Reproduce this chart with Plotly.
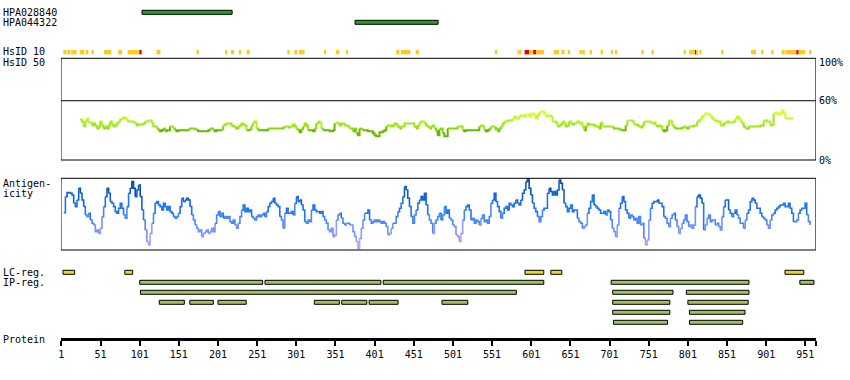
import numpy as np
import plotly.graph_objects as go

# ---------------------------------------------------------------- data
PROTEIN_LENGTH = 964
AXIS_TICKS = [1, 51, 101, 151, 201, 251, 301, 351, 401, 451, 501, 551, 601, 651, 701, 751, 801, 851, 901, 951]

ANTIBODY_NAMES = ["HPA028840", "HPA044322"]
ANTIBODY_START = [104, 376]
ANTIBODY_END = [219, 482]

# HsID 10 conserved stretches: 1 = yellow, 2 = red, 3 = dark red
HSID10_START = [4, 9, 14, 25, 33, 40, 56, 74, 86, 91, 101, 123, 174, 211, 218, 228, 238, 290, 299, 305,
                337, 352, 365, 429, 435, 439, 454, 555, 584, 593, 599, 602, 604, 608, 630, 640, 648, 663, 667, 676,
                690, 704, 709, 742, 755, 796, 803, 809, 811, 812, 816, 844, 882, 886, 895, 908, 921, 926, 940, 943, 957]
HSID10_END = [7, 12, 20, 30, 35, 42, 64, 78, 90, 100, 103, 127, 176, 212, 221, 230, 241, 292, 302, 311,
              338, 355, 366, 432, 438, 446, 457, 557, 588, 598, 600, 603, 607, 617, 636, 643, 650, 666, 669, 678,
              692, 705, 710, 744, 757, 798, 807, 810, 811, 813, 818, 846, 885, 887, 897, 910, 924, 939, 942, 950, 958]
HSID10_LEVEL = [1, 1, 1, 1, 1, 1, 1, 1, 1, 1, 2, 1, 1, 1, 1, 1, 1, 1, 1, 1,
                1, 1, 1, 1, 1, 1, 1, 1, 1, 2, 1, 1, 2, 1, 1, 1, 1, 1, 1, 1,
                1, 1, 1, 1, 1, 1, 1, 1, 3, 1, 1, 1, 1, 1, 1, 1, 1, 1, 2, 1, 1]

# HsID 50 identity (%), sampled evenly between first and last residue
HSID50_FIRST_RES = 25
HSID50_LAST_RES = 936
HSID50_PCT = [
    41, 39, 34, 39, 42, 38, 38, 35, 37, 35, 32, 34, 39, 35, 32, 34, 32, 35, 39, 36,
    34, 35, 37, 39, 41, 42, 43, 42, 40, 39, 39, 39, 38, 37, 35, 36, 36, 36, 37, 39,
    39, 40, 40, 37, 34, 34, 32, 30, 29, 30, 32, 29, 30, 30, 34, 34, 32, 30, 29, 30,
    30, 30, 30, 30, 30, 31, 32, 32, 32, 31, 30, 29, 29, 29, 29, 29, 29, 30, 32, 32,
    30, 29, 30, 30, 30, 31, 35, 36, 37, 37, 37, 35, 34, 33, 32, 34, 35, 37, 36, 35,
    30, 30, 31, 35, 38, 39, 32, 30, 30, 30, 30, 30, 30, 32, 32, 32, 32, 32, 32, 32,
    32, 32, 33, 34, 34, 33, 34, 34, 36, 34, 31, 30,
    28, 31, 34, 37, 35, 30, 30, 30, 29, 32, 37, 39, 38, 32, 30, 30, 30, 30, 29, 29,
    30, 37, 38, 37, 35, 37, 37, 35, 35, 34, 32, 32, 29, 32, 27, 25, 32, 31, 30, 30,
    30, 29, 29, 29, 27, 25, 24, 24, 28, 28, 29, 30, 34, 35, 35, 34, 35, 37, 36, 34,
    32, 34, 34, 37, 37, 37, 37, 37, 37, 34, 32, 35, 38, 39, 39, 37, 35, 34, 32, 34,
    35, 32, 29, 25, 31, 32, 27, 24, 24, 32, 32, 32, 32, 32, 32, 34, 34, 34, 30, 29,
    30, 30, 30, 30, 30, 30, 30, 30, 34, 35, 34, 30, 29, 30, 32, 34, 34, 33, 31, 29,
    32, 34, 37, 39, 39, 40, 40, 40, 42, 44, 42, 42, 44, 45, 45, 44, 46, 46, 44, 47,
    47, 45, 42, 45, 48, 49, 49, 47, 44, 45,
    45, 44, 39, 39, 38, 34, 35, 36, 39, 37, 34, 35, 39, 37, 36, 37, 38, 39, 37, 38,
    34, 30, 34, 37, 36, 36, 36, 35, 34, 34, 32, 38, 34, 34, 34, 34, 34, 34, 33, 32,
    32, 32, 31, 30, 30, 30, 35, 40, 40, 40, 39, 36, 36, 35, 34, 33, 35, 39, 39, 39,
    39, 38, 37, 38, 35, 34, 35, 34, 30, 29, 30, 35, 40, 39, 35, 33, 32, 32, 32, 32,
    33, 34, 33, 32, 34, 34, 34, 35, 35, 39, 40, 42, 44, 46, 47, 47, 46, 44, 42, 40,
    40, 39, 39, 35, 35, 37, 38, 39, 38, 38, 38, 39, 42, 44, 42, 39, 37, 34, 32, 32,
    34, 34, 34, 34, 34, 34, 34, 35, 35, 40, 40, 39, 39, 35, 36, 47, 48, 47, 46, 48,
    50, 47, 42, 42, 42, 42, 42, 42,
]

# Antigenicity score (arbitrary units), sampled evenly between first and last residue
ANTIGEN_FIRST_RES = 4
ANTIGEN_LAST_RES = 957
ANTIGENICITY = [
    112, 160, 172, 172, 170, 165, 140, 130, 150, 185, 170, 150, 130, 105, 100, 110, 90, 80, 75, 55,
    60, 50, 65, 100, 130, 160, 185, 170, 145, 140, 130, 115, 110, 125, 140, 125, 105, 95, 130, 170,
    185, 205, 185, 160, 180, 195, 160, 120, 90, 60, 25, 15, 50, 80, 110, 140, 145, 135, 130, 120,
    140, 130, 120, 130, 115, 110, 100, 95, 100, 110, 130, 155, 145, 150, 155, 150, 130, 105, 90, 75,
    65, 55, 60, 40, 50, 55, 60, 50, 55, 65, 55, 80, 105, 115, 100, 110, 95, 100, 95, 100,
    85, 80, 90, 75, 65, 80, 100, 120, 135, 115, 125, 115, 120, 100, 95, 90, 100, 105, 100, 105,
    110, 100, 115, 130, 140, 145, 155, 140, 135, 130, 100, 90, 65, 110, 125, 110,
    110, 115, 105, 140, 160, 145, 150, 135, 120, 85, 80, 90, 85, 120, 135, 120, 115, 115, 110, 115,
    100, 90, 80, 60, 55, 65, 40, 45, 90, 105, 110, 95, 80, 75, 80, 80, 75, 75, 55, 40,
    25, 5, 35, 65, 90, 110, 110, 120, 90, 80, 85, 90, 85, 90, 85, 80, 85, 80, 70, 45,
    50, 65, 80, 80, 100, 115, 125, 140, 160, 190, 180, 155, 130, 100, 80, 105, 120, 140, 150, 160,
    150, 170, 135, 105, 90, 80, 50, 80, 90, 100, 110, 90, 105, 130, 110, 120, 95, 90, 75, 70,
    45, 40, 25, 50, 90, 120, 130, 135, 120, 90, 95, 80, 90, 85, 75, 95, 105, 85, 90, 80,
    100, 140, 150, 170, 145, 130, 115, 95, 110, 125, 130, 120, 140, 135, 130, 140, 150, 140, 135, 150,
    170, 180, 205, 215, 185, 165, 140, 125, 115, 100, 85, 100, 120, 125, 125, 170, 185, 175, 165, 175,
    165, 180,
    210, 200, 180, 140, 130, 115, 125, 135, 115, 120, 120, 95, 85, 80, 65, 70, 75, 110, 125, 145,
    165, 135, 130, 125, 120, 110, 110, 115, 105, 120, 115, 90, 65, 55, 40, 75, 125, 140, 160, 145,
    120, 110, 95, 105, 100, 90, 95, 80, 100, 75, 80, 35, 15, 30, 90, 125, 140, 145, 145, 150,
    140, 140, 130, 100, 95, 80, 70, 95, 105, 110, 90, 70, 50, 65, 80, 90, 105, 85, 70, 75,
    65, 75, 130, 160, 165, 155, 140, 60, 75, 95, 105, 85, 90, 90, 75, 80, 70, 60, 100, 130,
    150, 150, 120, 110, 100, 110, 120, 105, 95, 80, 80, 65, 90, 110, 120, 145, 155, 150, 140, 125,
    125, 110, 100, 95, 90, 75, 65, 90, 105, 110, 120, 125, 130, 135, 135, 140, 130, 130, 140, 125,
    110, 85, 85, 90, 110, 120, 125, 125, 140, 105, 85, 75,
]
ANTIGEN_MAX = 215

LC_START = [3, 82, 593, 626, 925]
LC_END = [18, 92, 617, 640, 949]

IP_ROW = [1, 1, 1, 1, 1,
          2, 2, 2,
          3, 3, 3, 3, 3, 3, 3, 3, 3,
          4, 4,
          5, 5]
IP_START = [101, 261, 412, 703, 944,
            102, 705, 799,
            126, 165, 201, 324, 359, 394, 487, 705, 801,
            705, 803,
            706, 803]
IP_END = [258, 409, 617, 879, 962,
          582, 782, 879,
          158, 195, 237, 356, 391, 431, 520, 778, 878,
          778, 874,
          775, 871]

# ---------------------------------------------------------------- layout / style
W, H = 850, 380
FONT = "DejaVu Sans Mono"
X_LEFT_PX, X_RIGHT_PX = 58.2, 815.8
LEFT_LABEL_PX = -2.0
RIGHT_LABEL_PX = 817.0
ANTIBODY_ROW_PX = [12.3, 22.3]
HSID10_ROW_PX = 52.2
LC_ROW_PX = 272.3
IP_ROW0_PX, IP_ROW_PITCH = 282.3, 10
HSID_BOX = (58.3, 160.0)
HSID_SCALE = (160.0, 61.2)      # pixel of 0% and 100%
ANT_BOX = (178.3, 250.0)
PROTEIN_AXIS_PX = 339

HSID10_COLORS = {1: "#ffc822", 2: "#e60000", 3: "#a00000"}
ANT_EDGES = [30, 55, 80, 110, 150, 185]
ANT_COLORS = ["#b0a4ff", "#9399ff", "#7790ff", "#4a86fb", "#1f74f0", "#0f60d4", "#0b4ea8"]
HSID_EDGES = [31, 34, 38, 42, 46]
HSID_COLORS = ["#66b800", "#8ad80c", "#9ee81a", "#aef022", "#c2f825", "#d2ff2a"]


def paper_y(px):
    return 1 - px / H


fig = go.Figure()


def add_bars(starts, ends, ys, color, height, border):
    fig.add_trace(go.Bar(
        orientation="h", y=ys, x=[e - s for s, e in zip(starts, ends)], base=starts,
        width=height, marker=dict(color=color, line=dict(color="black", width=border)),
        xaxis="x", yaxis="y", hoverinfo="skip", showlegend=False))


# antibody bars
add_bars(ANTIBODY_START, ANTIBODY_END, ANTIBODY_ROW_PX, "#22a022", 4, 1)

# HsID 10 stretches
add_bars([s - 0.5 for s in HSID10_START], [e + 0.5 for e in HSID10_END],
         [HSID10_ROW_PX] * len(HSID10_START),
         [HSID10_COLORS[l] for l in HSID10_LEVEL], 4.4, 0)

# LC regions and IP regions
add_bars(LC_START, LC_END, [LC_ROW_PX] * len(LC_START), "#eed42a", 4, 1)
add_bars(IP_START, IP_END, [IP_ROW0_PX + (r - 1) * IP_ROW_PITCH for r in IP_ROW], "#9dc35c", 4, 1)


def add_binned_line(xs, vals, edges, colors, yaxis, width):
    xs = list(xs)
    vals = list(vals)
    bins = np.digitize(np.asarray(vals[:-1], float), edges)
    n = len(bins)
    for b, col in enumerate(colors):
        lx, ly = [], []
        i = 0
        while i < n:
            if bins[i] == b:
                j = i
                while j + 1 < n and bins[j + 1] == b:
                    j += 1
                lx += xs[i:j + 2] + [None]
                ly += vals[i:j + 2] + [None]
                i = j + 1
            else:
                i += 1
        if lx:
            fig.add_trace(go.Scatter(x=lx, y=ly, mode="lines", xaxis="x", yaxis=yaxis,
                                     line=dict(color=col, width=width, shape="hv"),
                                     hoverinfo="skip", showlegend=False))


hsid_x = np.linspace(HSID50_FIRST_RES, HSID50_LAST_RES, len(HSID50_PCT)).tolist()
add_binned_line(hsid_x, HSID50_PCT, HSID_EDGES, HSID_COLORS, "y2", 2)

ant_x = np.linspace(ANTIGEN_FIRST_RES, ANTIGEN_LAST_RES, len(ANTIGENICITY)).tolist()
add_binned_line(ant_x, ANTIGENICITY, ANT_EDGES, ANT_COLORS, "y3", 1.6)

# frames
x0f, x1f = 0.5, PROTEIN_LENGTH + 0.5
shapes = [
    dict(type="rect", xref="x", yref="y", x0=x0f, x1=x1f, y0=HSID_BOX[0], y1=HSID_BOX[1],
         line=dict(color="black", width=1), layer="above"),
    dict(type="line", xref="x", yref="y2", x0=x0f, x1=x1f, y0=60, y1=60,
         line=dict(color="black", width=1), layer="above"),
    dict(type="rect", xref="x", yref="y", x0=x0f, x1=x1f, y0=ANT_BOX[0], y1=ANT_BOX[1],
         line=dict(color="black", width=1), layer="above"),
]

label_font = dict(family=FONT, size=10, color="black")
annotations = []
left_labels = [("HPA028840", 13), ("HPA044322", 23), ("HsID 10", 52), ("HsID 50", 62),
               ("Antigen-", 183), ("icity", 193), ("LC-reg.", 272), ("IP-reg.", 282), ("Protein", 339)]
for txt, yc in left_labels:
    annotations.append(dict(text=txt, xref="paper", yref="paper", x=LEFT_LABEL_PX / W, y=paper_y(yc),
                            xanchor="left", yanchor="middle", showarrow=False, font=label_font))
for txt, yc in [("100%", 62.5), ("60%", 100.7), ("0%", 160)]:
    annotations.append(dict(text=txt, xref="paper", yref="paper", x=RIGHT_LABEL_PX / W, y=paper_y(yc),
                            xanchor="left", yanchor="middle", showarrow=False, font=label_font))

fig.update_layout(
    width=W, height=H, margin=dict(l=0, r=0, t=0, b=0),
    paper_bgcolor="white", plot_bgcolor="white", barmode="overlay", showlegend=False,
    xaxis=dict(domain=[X_LEFT_PX / W, X_RIGHT_PX / W], range=[x0f, x1f], anchor="free",
               position=paper_y(PROTEIN_AXIS_PX), showline=True, linecolor="black", linewidth=3,
               ticks="outside", ticklen=5, tickwidth=2, tickcolor="black",
               tickvals=AXIS_TICKS + [PROTEIN_LENGTH], ticktext=[str(t) for t in AXIS_TICKS] + [""],
               tickfont=label_font, showgrid=False, zeroline=False, fixedrange=True),
    yaxis=dict(domain=[0, 1], range=[H, 0], visible=False, anchor="x", fixedrange=True),
    yaxis2=dict(domain=[paper_y(HSID_SCALE[0]), paper_y(HSID_SCALE[1])], range=[0, 100],
                visible=False, anchor="x", fixedrange=True),
    yaxis3=dict(domain=[paper_y(ANT_BOX[1]), paper_y(ANT_BOX[0])], range=[0, ANTIGEN_MAX],
                visible=False, anchor="x", fixedrange=True),
    shapes=shapes, annotations=annotations,
)

fig.write_html(
    "out.html",
    config={"displayModeBar": False},
    post_script="document.body.style.margin='0';document.body.style.overflow='hidden';",
)
